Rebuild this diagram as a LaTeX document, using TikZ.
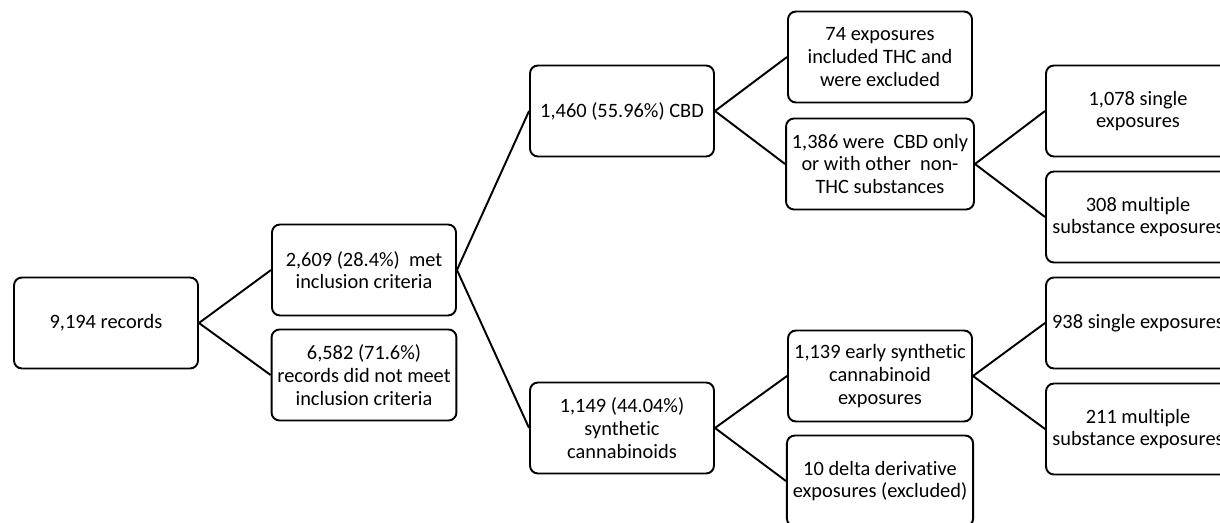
\documentclass[tikz,border=0pt]{standalone}
\usepackage{fontspec}
\setmainfont{Carlito}[Ligatures=NoCommon]
\usepackage{tikz}
\usetikzlibrary{positioning}

\begin{document}
\begin{tikzpicture}[node distance=5.16cm,
    box/.style={draw, rounded corners=0.16cm, line width=1.1pt, fill=white,
        minimum width=3.68cm, minimum height=1.82cm, align=center,
        font=\fontsize{11.6}{12.9}\selectfont},
    link/.style={line width=1.1pt}]
    \useasboundingbox (0,0) rectangle (24.4,-10.46);
    % Records
    \node[box] (records) at (2.12,-6.46) {9,194 records};
    \node[box, right of=records, yshift=1.06cm] (met) {2,609 (28.4\%)~ met\\inclusion criteria};
    \node[box, right of=records, yshift=-1.04cm] (notmet) {6,582 (71.6\%)\\records did not meet\\inclusion criteria};
    % Cannabinoid type
    \node[box, right of=met, yshift=3.18cm] (cbd) {1,460 (55.96\%) CBD};
    \node[box, right of=met, yshift=-3.16cm] (synth) {1,149 (44.04\%)\\synthetic\\cannabinoids};
    % CBD branch
    \node[box, right of=cbd, yshift=1.08cm] (thc) {74 exposures\\included THC and\\were excluded};
    \node[box, right of=cbd, yshift=-1.06cm] (cbdonly) {1,386 were~ CBD only\\or with other~ non-\\THC substances};
    \node[box, right of=cbdonly, yshift=1.06cm] (cbdsingle) {1,078 single\\exposures};
    \node[box, right of=cbdonly, yshift=-1.06cm] (cbdmulti) {308 multiple\\substance exposures};
    % Synthetic branch
    \node[box, right of=synth, yshift=1.04cm] (early) {1,139 early synthetic\\cannabinoid\\exposures};
    \node[box, right of=synth, yshift=-1.06cm] (delta) {10 delta derivative\\exposures (excluded)};
    \node[box, right of=early, yshift=1.06cm] (synsingle) {938 single exposures};
    \node[box, right of=early, yshift=-1.06cm] (synmulti) {211 multiple\\substance exposures};

    % Connectors
    \path[link]
        (records.east) edge (met.west)
        (records.east) edge (notmet.west)
        (met.east) edge (cbd.west)
        (met.east) edge (synth.west)
        (cbd.east) edge (thc.west)
        (cbd.east) edge (cbdonly.west)
        (cbdonly.east) edge (cbdsingle.west)
        (cbdonly.east) edge (cbdmulti.west)
        (synth.east) edge (early.west)
        (synth.east) edge (delta.west)
        (early.east) edge (synsingle.west)
        (early.east) edge (synmulti.west);
\end{tikzpicture}
\end{document}
